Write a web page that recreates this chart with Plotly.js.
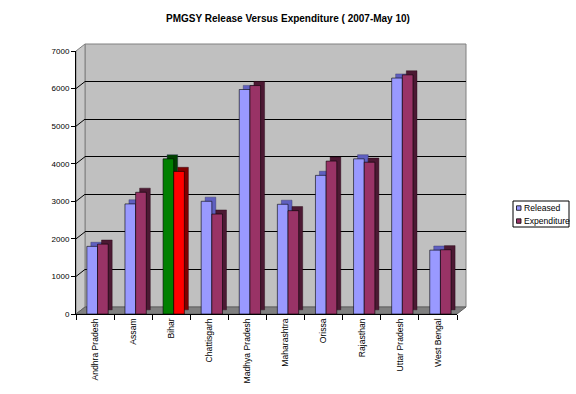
<!DOCTYPE html>
<html>
<head>
<meta charset="utf-8">
<script src="https://cdn.plot.ly/plotly-3.0.1.min.js"></script>
<style>html,body{margin:0;padding:0;background:#fff;}#chart{width:576px;height:394px;}</style>
</head>
<body>
<div id="chart"></div>
<script>
// ---- data ----
const categories = ["Andhra Pradesh","Assam","Bihar","Chattisgarh","Madhya Pradesh","Maharashtra","Orissa","Rajasthan","Uttar Pradesh","West Bengal"];
const released    = [1800, 2930, 4130, 3000, 5975, 2920, 3690, 4130, 6280, 1700];
const expenditure = [1860, 3240, 3795, 2660, 6080, 2750, 4070, 4040, 6365, 1710];
const seriesNames = ["Released", "Expenditure"];
const highlighted = "Bihar";
const yTickVals = [0, 1000, 2000, 3000, 4000, 5000, 6000, 7000];

// ---- styling ----
const FONT = "'Liberation Sans', Arial, sans-serif";
const relFront = "#9999FF", relSide = "#5F5FC0";
const expFront = "#993366", expSide = "#4C1933";
const hiRelFront = "#008000", hiRelSide = "#004000";
const hiExpFront = "#FF0000", hiExpSide = "#800000";
const depthVal = 110;      // extrusion height in value units
const depthOff = 0.105;    // extrusion shift in category units
const barW = 0.28;
const relOff = -0.215, expOff = 0.065;

const isHi = categories.map(c => c === highlighted);
const col = (a, b) => isHi.map(h => h ? a : b);

const W = 390, H = 270, dxPx = 9, dyPx = 7;
const dx = dxPx / W, dy = dyPx / H;
const px2x = p => (p - 76) / W;
const px2y = p => (314 - p) / H;

const common = {type: "bar", x: categories, xaxis: "x2", yaxis: "y2", width: barW, hoverinfo: "skip", showlegend: false};
const traces = [
  {x: [], y: [], type: "scatter", xaxis: "x", yaxis: "y", showlegend: false, hoverinfo: "skip"},
  Object.assign({}, common, {y: released, base: depthVal, offset: relOff + depthOff,
    marker: {color: col(hiRelSide, relSide), line: {width: 0.4, color: "#303060"}}}),
  Object.assign({}, common, {name: seriesNames[0], y: released, offset: relOff,
    marker: {color: col(hiRelFront, relFront), line: {width: 0.6, color: "#000"}}}),
  Object.assign({}, common, {y: expenditure, base: depthVal, offset: expOff + depthOff,
    marker: {color: col(hiExpSide, expSide), line: {width: 0.4, color: "#200010"}}}),
  Object.assign({}, common, {name: seriesNames[1], y: expenditure, offset: expOff,
    marker: {color: col(hiExpFront, expFront), line: {width: 0.6, color: "#000"}}})
];

const shapes = [];
// back wall
shapes.push({type: "rect", xref: "paper", yref: "paper", x0: dx, x1: 1, y0: dy, y1: 1,
  fillcolor: "#C0C0C0", line: {color: "#808080", width: 1}, layer: "below"});
// left side wall
shapes.push({type: "path", xref: "paper", yref: "paper",
  path: `M 0 0 L ${dx} ${dy} L ${dx} 1 L 0 ${1 - dy} Z`,
  fillcolor: "#C8C8C8", line: {color: "#808080", width: 1}, layer: "below"});
// floor
shapes.push({type: "path", xref: "paper", yref: "paper",
  path: `M 0 0 L ${dx} ${dy} L 1 ${dy} L ${1 - dx} 0 Z`,
  fillcolor: "#808080", line: {color: "#606060", width: 1}, layer: "below"});
// side-wall grid lines
yTickVals.slice(1, -1).forEach(v => {
  const f = v / 7000 * (1 - dy);
  shapes.push({type: "line", xref: "paper", yref: "paper", x0: 0, y0: f, x1: dx, y1: f + dy,
    line: {color: "#000", width: 1}, layer: "below"});
});

// custom compact legend (Excel style)
const annotations = [];
shapes.push({type: "rect", xref: "paper", yref: "paper",
  x0: px2x(513), x1: px2x(569), y0: px2y(227), y1: px2y(201),
  fillcolor: "#FFFFFF", line: {color: "#000", width: 1}, layer: "above"});
const legendFront = [relFront, expFront];
const legendRows = [208, 221];
seriesNames.forEach((name, i) => {
  const cy = legendRows[i];
  shapes.push({type: "rect", xref: "paper", yref: "paper",
    x0: px2x(516.5), x1: px2x(521), y0: px2y(cy + 2.3), y1: px2y(cy - 2.2),
    fillcolor: legendFront[i], line: {color: "#000", width: 0.8}, layer: "above"});
  annotations.push({xref: "paper", yref: "paper", x: px2x(522), y: px2y(cy), xanchor: "left", yanchor: "middle",
    text: name, showarrow: false, font: {family: FONT, size: 8.6, color: "#000"}});
});

const layout = {
  width: 576, height: 394,
  margin: {l: 76, r: 110, t: 44, b: 80, pad: 0},
  paper_bgcolor: "#FFFFFF", plot_bgcolor: "rgba(0,0,0,0)",
  font: {family: FONT, size: 9, color: "#000"},
  title: {text: "<b>PMGSY Release Versus Expenditure ( 2007-May 10)</b>",
    font: {family: FONT, size: 10, color: "#000"},
    x: 0.5, xref: "container", xanchor: "center", y: 1 - 18 / 394, yref: "container", yanchor: "middle"},
  barmode: "overlay",
  showlegend: false,
  xaxis: {domain: [dx, 1], range: [-0.5, 9.5], showgrid: false, showticklabels: false,
    zeroline: false, showline: false, ticks: "", fixedrange: true},
  yaxis: {domain: [dy, 1], range: [0, 7000], tickvals: yTickVals, showgrid: true,
    gridcolor: "#000", gridwidth: 1, showticklabels: false, zeroline: false, showline: false, ticks: ""},
  xaxis2: {domain: [0, 1 - dx], anchor: "y2", type: "category", categoryorder: "array", categoryarray: categories,
    range: [-0.5, 9.5], tickangle: -90, tickson: "boundaries", ticks: "outside", ticklen: 5,
    tickcolor: "#000", showline: true, linecolor: "#000", linewidth: 1, showgrid: false,
    tickfont: {family: FONT, size: 8.6, color: "#000"}},
  yaxis2: {domain: [0, 1 - dy], anchor: "x2", range: [0, 7000], tickvals: yTickVals,
    ticks: "outside", ticklen: 4, tickcolor: "#000", showline: true, linecolor: "#000", linewidth: 1,
    showgrid: false, zeroline: false, tickfont: {family: FONT, size: 8, color: "#000"}},
  shapes: shapes,
  annotations: annotations
};

Plotly.newPlot("chart", traces, layout, {displayModeBar: false, staticPlot: true});
</script>
</body>
</html>
